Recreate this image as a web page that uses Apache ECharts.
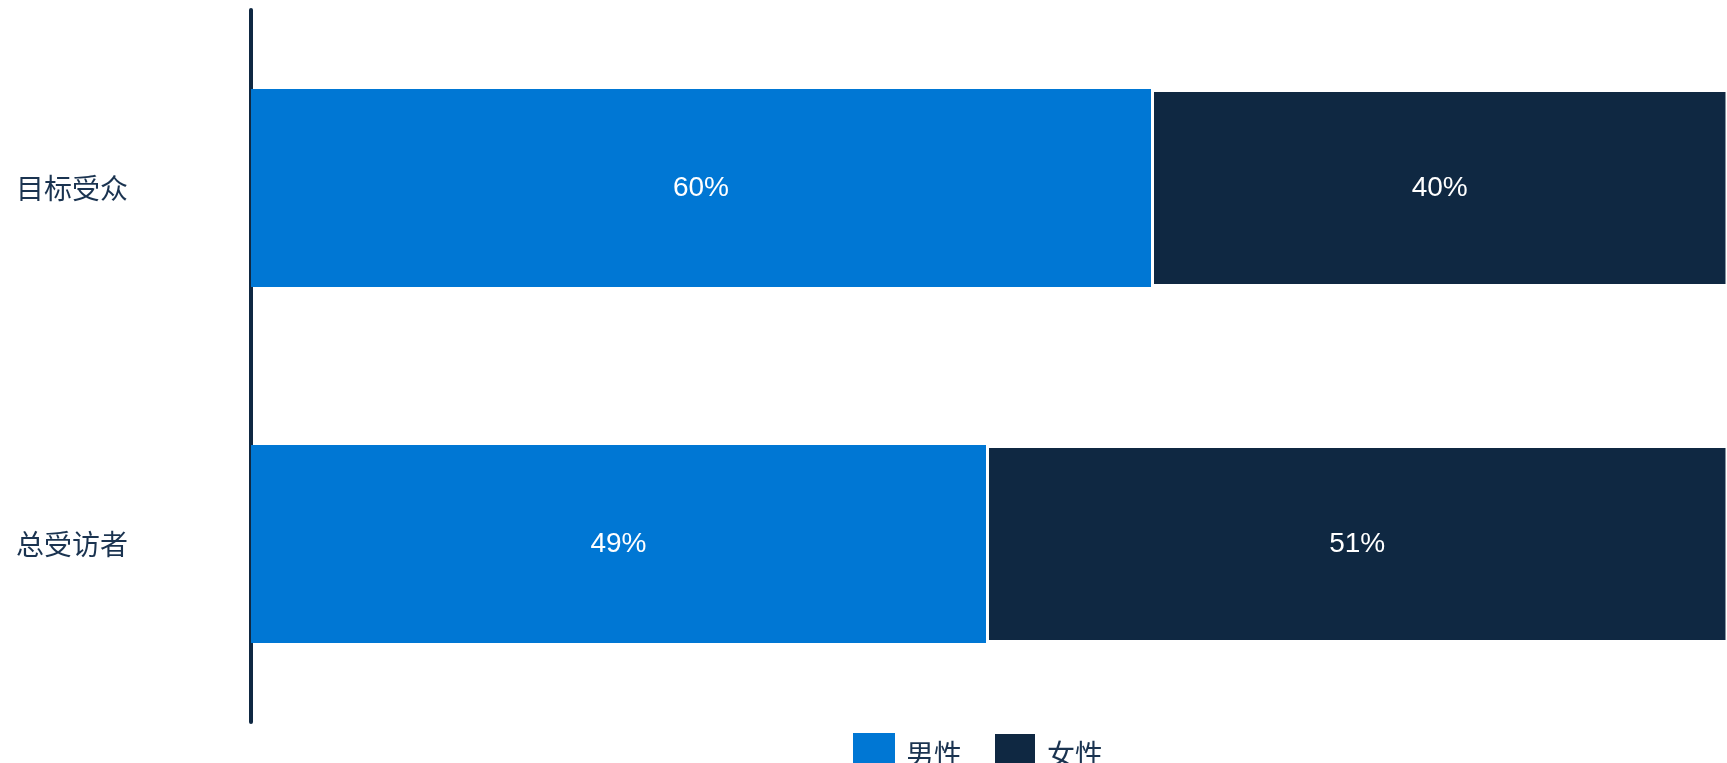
<!DOCTYPE html>
<html>
<head>
<meta charset="utf-8">
<script src="https://cdn.jsdelivr.net/npm/echarts@6/dist/echarts.min.js"></script>
<style>html,body{margin:0;padding:0;background:#fff;}#c{width:1727px;height:763px;}</style>
</head>
<body>
<div id="c"></div>
<script>
const categories = ['目标受众', '总受访者'];
const seriesNames = ['男性', '女性'];
const maleValues = [60, 49];
const femaleValues = [40, 51];
const colors = ['#0077d4', '#0f2842'];

const chart = echarts.init(document.getElementById('c'), null, {renderer: 'canvas'});
const labelStyle = {
  show: true, position: 'inside', color: '#ffffff',
  fontFamily: '"Liberation Sans", Arial, sans-serif', fontSize: 28,
  formatter: p => p.value + '%'
};
chart.setOption({
  animation: false,
  backgroundColor: '#ffffff',
  grid: {left: 251, right: 0, top: 10, bottom: 41, containLabel: false},
  xAxis: {type: 'value', min: 0, max: 98.4, show: false},
  yAxis: {
    type: 'category', data: categories, inverse: true,
    axisLine: {show: true, lineStyle: {color: '#0f2842', width: 4}},
    axisTick: {show: false},
    axisLabel: {color: '#1a3350', fontSize: 28, margin: 123,
      fontFamily: '"Noto Sans CJK SC", sans-serif'}
  },
  legend: {
    left: 853, top: 732, padding: 0, itemWidth: 42, itemHeight: 42, itemGap: 31,
    icon: 'rect',
    textStyle: {fontSize: 28, color: '#1a3350', padding: [0, 0, 0, 6],
      fontFamily: '"Noto Sans CJK SC", sans-serif'},
    data: seriesNames
  },
  series: [
    {name: seriesNames[0], type: 'bar', stack: 'g', data: maleValues, barWidth: 198,
      itemStyle: {color: colors[0]}, label: labelStyle},
    {name: seriesNames[1], type: 'bar', stack: 'g', data: femaleValues, barWidth: 198,
      itemStyle: {color: colors[1], borderColor: '#ffffff', borderWidth: 3}, label: labelStyle}
  ]
});
</script>
</body>
</html>
